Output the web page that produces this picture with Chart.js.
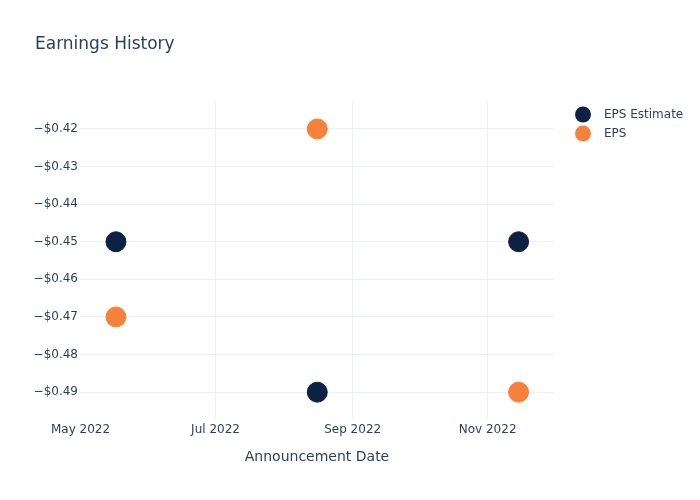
<!DOCTYPE html>
<html>
<head>
<meta charset="utf-8">
<script src="https://cdn.jsdelivr.net/npm/chart.js@4"></script>
<style>
  html, body { margin: 0; padding: 0; background: #fff; }
  #wrap { width: 700px; height: 500px; }
</style>
</head>
<body>
<div id="wrap"><canvas id="earnings" width="700" height="500"></canvas></div>
<script>
const announceDates = ['2022-05-17', '2022-08-16', '2022-11-15'];
const epsEstimate = [-0.45, -0.49, -0.45];
const epsActual = [-0.47, -0.42, -0.49];
const xTickDates = ['2022-05-01', '2022-07-01', '2022-09-01', '2022-11-01'];
const xTickLabels = ['May 2022', 'Jul 2022', 'Sep 2022', 'Nov 2022'];
const yTicks = [-0.49, -0.48, -0.47, -0.46, -0.45, -0.44, -0.43, -0.42];
const seriesNames = ['EPS Estimate', 'EPS'];
const seriesColors = ['#0d2145', '#f5813a'];

const textColor = '#2a3f5f';
const gridColor = '#ebf0f8';
const fontFamily = '"DejaVu Sans", "Open Sans", sans-serif';

const toTime = (d) => Date.parse(d + 'T00:00:00Z');
const toPoints = (values) => announceDates.map((d, i) => ({x: toTime(d), y: values[i]}));

const fmtMoney = (v) => {
    const s = '$' + Math.abs(v).toFixed(2);
    return v < 0 ? '\u2212' + s : s;
};

// title + legend drawn by hand so they land where plotly put them
const decorations = {
    id: 'decorations',
    afterDraw(chart) {
        const ctx = chart.ctx;
        ctx.save();
        ctx.fillStyle = textColor;
        ctx.textBaseline = 'middle';
        ctx.textAlign = 'left';
        ctx.font = '17px ' + fontFamily;
        ctx.fillText('Earnings History', 35, 45);

        ctx.font = '12px ' + fontFamily;
        seriesNames.forEach((name, i) => {
            const y = 114.5 + i * 19;
            ctx.beginPath();
            ctx.fillStyle = seriesColors[i];
            ctx.arc(583, y, 8, 0, Math.PI * 2);
            ctx.fill();
            ctx.fillStyle = textColor;
            ctx.fillText(name, 604, y + 0.5);
        });
        ctx.restore();
    }
};

const ctx = document.getElementById('earnings').getContext('2d');
new Chart(ctx, {
    type: 'scatter',
    data: {
        datasets: [
            {
                label: seriesNames[0],
                data: toPoints(epsEstimate),
                backgroundColor: seriesColors[0],
                borderColor: seriesColors[0],
                pointRadius: 10,
                pointHoverRadius: 10,
            },
            {
                label: seriesNames[1],
                data: toPoints(epsActual),
                backgroundColor: seriesColors[1],
                borderColor: seriesColors[1],
                pointRadius: 10,
                pointHoverRadius: 10,
            },
        ],
    },
    options: {
        responsive: false,
        animation: false,
        layout: {padding: {left: 0, top: 100, right: 146, bottom: 0}},
        plugins: {
            legend: {display: false},
            title: {display: false},
            tooltip: {enabled: false},
        },
        scales: {
            x: {
                type: 'linear',
                min: toTime('2022-04-30') + 18 * 3600 * 1000,
                max: toTime('2022-12-01'),
                afterFit: (scale) => { scale.height = 80; },
                afterBuildTicks: (scale) => {
                    scale.ticks = xTickDates.map((d) => ({value: toTime(d)}));
                },
                border: {display: false},
                grid: {
                    color: (c) => (c.index === 0 ? 'rgba(0,0,0,0)' : gridColor),
                    drawTicks: false,
                },
                ticks: {
                    color: textColor,
                    font: {family: fontFamily, size: 12},
                    padding: 3,
                    maxRotation: 0,
                    callback: (value) => {
                        const i = xTickDates.findIndex((d) => toTime(d) === value);
                        return i >= 0 ? xTickLabels[i] : '';
                    },
                },
                title: {
                    display: true,
                    text: 'Announcement Date',
                    color: textColor,
                    font: {family: fontFamily, size: 14},
                    padding: {top: 0, bottom: 34},
                },
            },
            y: {
                type: 'linear',
                min: -0.4974,
                max: -0.4123,
                afterFit: (scale) => { scale.width = 80; },
                afterBuildTicks: (scale) => {
                    scale.ticks = yTicks.map((v) => ({value: v}));
                },
                border: {display: false},
                grid: {color: gridColor, drawTicks: false},
                ticks: {
                    color: textColor,
                    font: {family: fontFamily, size: 12},
                    padding: 2,
                    callback: (value) => fmtMoney(value),
                },
            },
        },
    },
    plugins: [decorations],
});
</script>
</body>
</html>
